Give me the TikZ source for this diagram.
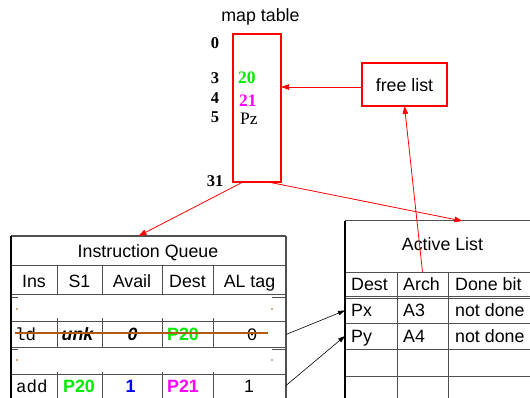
\documentclass[tikz,border=0pt]{standalone}
\usepackage{fontspec}
\setmainfont{Liberation Serif}
\setsansfont{Liberation Sans}
\setmonofont{Liberation Mono}
\usetikzlibrary{arrows.meta}
\definecolor{brgreen}{RGB}{0,235,0}
\definecolor{brmag}{RGB}{255,0,255}
\definecolor{brblue}{RGB}{0,0,255}
\definecolor{strikec}{RGB}{176,92,16}
\definecolor{gline}{RGB}{80,80,80}
\begin{document}
\begin{tikzpicture}[x=1pt,y=-1pt,
  lbl/.style={font=\sffamily\fontsize{17.8}{20}\selectfont, inner sep=0, anchor=base},
  lblw/.style={lbl, anchor=base west},
  bsf/.style={font=\sffamily\bfseries\fontsize{17.8}{20}\selectfont, inner sep=0, anchor=base},
  bisf/.style={font=\sffamily\bfseries\itshape\fontsize{17.8}{20}\selectfont, inner sep=0, anchor=base},
  idx/.style={font=\rmfamily\bfseries\fontsize{16.5}{19}\selectfont, inner sep=0, anchor=base},
  val/.style={font=\rmfamily\bfseries\fontsize{17.5}{20}\selectfont, inner sep=0, anchor=base west},
  monot/.style={font=\ttfamily\fontsize{17.5}{20}\selectfont, inner sep=0, anchor=base west},
  monoc/.style={font=\ttfamily\fontsize{17.5}{20}\selectfont, inner sep=0, anchor=base},
  area/.style={inner sep=0, outer sep=0, minimum width=#1},
  redarrow/.style={red, line width=0.8pt, -{Triangle[length=8pt,width=5.5pt]}},
  blkarrow/.style={black, line width=0.6pt, -{Triangle[length=7pt,width=4.5pt]}},
  tline/.style={gline, line width=1pt},
  edge/.style={black, line width=1.4pt}
]
\useasboundingbox (0,0) rectangle (530,398);
\clip (0,0) rectangle (530,398);
\fill[white] (0,0) rectangle (530,398);

% ---------- map table ----------
\node[lbl] (maptitle) at (260.5,22) {map table};
\node[draw=red, line width=1.5pt, minimum width=48pt, minimum height=148pt, inner sep=0, outer sep=0] (map) at (257,108) {};
\node[idx] (i0) at (215,49) {0};
\node[idx] (i3) at (215,84) {3};
\node[idx] (i4) at (215,104) {4};
\node[idx] (i5) at (215,123) {5};
\node[idx] (i31) at (215,187) {31};
\node[val, text=brgreen] (v20) at (238,84) {20};
\node[val, text=brmag] (v21) at (239,107) {21};
\node[val, font=\rmfamily\fontsize{17.5}{20}\selectfont] (vpz) at (240,125) {Pz};

% ---------- free list ----------
\node[draw=red, line width=2pt, minimum width=85pt, minimum height=43pt, inner sep=0, outer sep=0] (free) at (404.5,84.5) {};
\node[lbl] (freetxt) at (404.5,92) {free list};

% ---------- Instruction Queue ----------
\node[area=275pt, minimum height=29pt] (iqtitle) at (148.5,250.5) {};
\node[lbl] (iqtxt) at (148,257) {Instruction Queue};
\node[area=275pt, minimum height=25pt] (iqld) at (148.5,334.5) {};
\node[area=275pt, minimum height=25pt] (iqadd) at (148.5,385.5) {};

\draw[tline] (11,236) -- (286,236);
\draw[tline] (11,265) -- (286,265);
\draw[tline] (11,294) -- (286,294);
\draw[tline] (11,297.5) -- (18,297.5) (272,297.5) -- (286,297.5);
\draw[tline] (11,321) -- (286,321);
\draw[tline] (11,347) -- (286,347);
\draw[tline] (11,349.5) -- (18,349.5) (272,349.5) -- (286,349.5);
\draw[tline] (11,374) -- (286,374);
\foreach \cx in {57,102,162,213} {
  \draw[tline] (\cx,265) -- (\cx,294);
  \draw[tline] (\cx,318) -- (\cx,347);
  \draw[tline] (\cx,372) -- (\cx,400);
}
\draw[edge] (11,236) -- (11,400);
\draw[gline, line width=1.5pt] (286,236) -- (286,400);
\foreach \dx/\dy in {17/309,272/309,17/360,272/360}
  \fill[strikec] (\dx,\dy) circle (0.9pt);

\node[lbl] (hins) at (34,287) {Ins};
\node[lbl] (hs1) at (79.5,287) {S1};
\node[lbl] (havail) at (132,287) {Avail};
\node[lbl] (hdest) at (187.5,287) {Dest};
\node[lbl] (haltag) at (249.5,287) {AL tag};

\node[monot] (ldins) at (15,340) {ld};
\node[bisf] (ldunk) at (77.5,340) {unk};
\node[bisf] (ldavail) at (132.5,340) {0};
\node[bsf, text=brgreen] (lddest) at (183,340) {P20};
\node[monoc] (ldtag) at (252,340) {0};
\draw[strikec, line width=2.6pt] (15,333) -- (268,333);

\node[monot] (addins) at (16,392) {add};
\node[bsf, text=brgreen] (adds1) at (79,392) {P20};
\node[bsf, text=brblue] (addavail) at (130.5,392) {1};
\node[bsf, text=brmag] (adddest) at (183,392) {P21};
\node[lbl] (addtag) at (249,392) {1};

% ---------- Active List ----------
\node[area=195pt, minimum height=51pt] (altitle) at (442.5,246.5) {};
\node[lbl] (altxt) at (442.5,251) {Active List};
\node[area=51pt, minimum height=24pt] (alarch) at (422.5,284) {};
\node[area=195pt, minimum height=25pt] (alpx) at (442.5,310.5) {};
\node[area=195pt, minimum height=26pt] (alpy) at (442.5,336) {};

\draw[tline] (345,221) -- (540,221);
\foreach \ry in {272,296,298.5,323,349,376}
  \draw[tline] (345,\ry) -- (540,\ry);
\foreach \cx in {397,448}
  \draw[tline] (\cx,272) -- (\cx,400);
\draw[edge] (345,221) -- (345,400);

\node[lblw] (aldest) at (351,290) {Dest};
\node[lblw] (alarchtxt) at (403,290) {Arch};
\node[lblw] (aldone) at (455,290) {Done bit};
\node[lblw] (pxd) at (351,316) {Px};
\node[lblw] (pxa) at (403,316) {A3};
\node[lblw] (pxn) at (455,316) {not done};
\node[lblw] (pyd) at (351,342) {Py};
\node[lblw] (pya) at (403,342) {A4};
\node[lblw] (pyn) at (455,342) {not done};

% ---------- connectors ----------
\draw[redarrow] ([yshift=-2.5pt]free.west) -- ([yshift=-2.5pt]free.west -| map.east);
\draw[redarrow] (alarch.north) -- (free.south);
\draw[redarrow] ([xshift=-14pt]map.south) -- ([xshift=-10pt]iqtitle.north);
\draw[redarrow] ([xshift=11pt]map.south) -- ([xshift=20pt]altitle.north);
\draw[blkarrow] (iqld.east) -- (alpx.west);
\draw[blkarrow] (iqadd.east) -- (alpy.west);
\end{tikzpicture}
\end{document}
